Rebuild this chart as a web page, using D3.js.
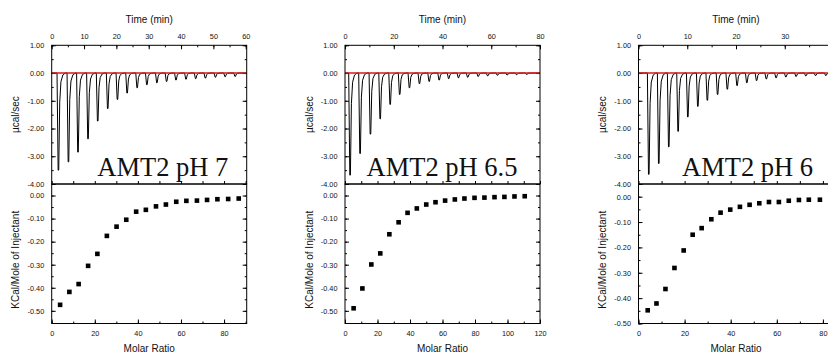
<!DOCTYPE html>
<html>
<head>
<meta charset="utf-8">
<script src="https://cdn.jsdelivr.net/npm/d3@7"></script>
<style>
  html, body { margin: 0; padding: 0; background: #fff; }
  svg { display: block; }
  .tick text { font-family: "Liberation Sans", Arial, sans-serif; font-size: 7.3px; fill: #111; }
  .title { font-family: "Liberation Sans", Arial, sans-serif; font-size: 10px; fill: #111; }
  .tag { font-family: "Liberation Serif", "Times New Roman", serif; font-size: 26.5px; fill: #111; }
</style>
</head>
<body>
<svg id="chart" width="828" height="354"></svg>
<script>
// ---------------- DATA ----------------
const labels = ["AMT2 pH 7", "AMT2 pH 6.5", "AMT2 pH 6"];

// Raw thermogram: injection times (min) and peak minima (µcal/sec)
const injTimeP7  = [2.05, 5.15, 8.1, 11.2, 14.2, 17.3, 20.3, 23.3, 26.4, 29.4, 32.5, 35.5, 38.4, 41.5, 44.5, 47.5, 50.6, 53.6, 56.7];
const peakHeatP7 = [-3.50, -3.20, -2.85, -2.37, -1.73, -1.28, -0.95, -0.72, -0.53, -0.42, -0.35, -0.30, -0.25, -0.22, -0.20, -0.18, -0.15, -0.13, -0.12];

const injTimeP65  = [2.05, 6.15, 10.4, 14.4, 18.5, 22.4, 26.4, 30.5, 34.5, 38.6, 42.5, 46.5, 50.3, 54.6, 58.5, 62.5, 66.5, 70.4, 74.5];
const peakHeatP65 = [-3.68, -2.90, -2.20, -1.65, -1.13, -0.77, -0.53, -0.38, -0.30, -0.25, -0.20, -0.17, -0.15, -0.12, -0.10, -0.08, -0.07, -0.06, -0.05];

const injTimeP6  = [2.09, 4.14, 6.19, 8.11, 10.1, 12.15, 14.1, 16.2, 18.2, 20.2, 22.2, 24.2, 26.2, 28.2, 30.2, 32.3, 34.3, 36.3, 38.4];
const peakHeatP6 = [-3.65, -3.26, -2.66, -2.10, -1.58, -1.20, -0.98, -0.77, -0.58, -0.45, -0.35, -0.27, -0.21, -0.17, -0.14, -0.12, -0.10, -0.09, -0.09];

// Integrated heats: molar ratio vs kcal/mole of injectant
const ratioP7 = [3.9, 8.2, 12.5, 16.9, 21.2, 25.6, 30.1, 34.6, 39.2, 43.7, 48.4, 53.0, 57.8, 62.5, 67.4, 72.1, 76.9, 81.9, 86.8];
const enthP7  = [-0.474, -0.418, -0.384, -0.305, -0.253, -0.175, -0.135, -0.105, -0.070, -0.062, -0.047, -0.039, -0.027, -0.023, -0.022, -0.019, -0.016, -0.015, -0.013];

const ratioP65 = [5.3, 10.7, 16.2, 21.7, 27.3, 33.0, 38.5, 44.2, 50.0, 55.7, 61.6, 67.6, 73.5, 79.7, 85.8, 92.0, 98.1, 104.3, 110.6];
const enthP65  = [-0.489, -0.403, -0.299, -0.251, -0.168, -0.116, -0.075, -0.056, -0.039, -0.029, -0.022, -0.017, -0.013, -0.010, -0.009, -0.007, -0.006, -0.004, -0.003];

const ratioP6 = [4.0, 7.8, 11.7, 15.6, 19.6, 23.5, 27.4, 31.6, 35.6, 39.8, 44.0, 48.2, 52.4, 56.6, 60.9, 65.2, 69.6, 73.9, 78.7];
const enthP6  = [-0.448, -0.421, -0.364, -0.281, -0.212, -0.150, -0.124, -0.089, -0.063, -0.051, -0.040, -0.032, -0.026, -0.021, -0.021, -0.016, -0.013, -0.012, -0.012];

// Axis tick values
const heatTicks = [1, 0, -1, -2, -3, -4];
const enthTicks = [0, -0.1, -0.2, -0.3, -0.4, -0.5];

// ---------------- LAYOUT ----------------
const panels = [
  { label: labels[0], t: injTimeP7,  q: peakHeatP7,  r: ratioP7,  h: enthP7,
    left: 51.7, timeMax: 60.3, timeMajor: 10, ratioMax: 90.5, ratioMajor: 20, enthMin: -0.555,
    tagX: 97.3 },
  { label: labels[1], t: injTimeP65, q: peakHeatP65, r: ratioP65, h: enthP65,
    left: 345, timeMax: 80, timeMajor: 20, ratioMax: 120, ratioMajor: 20, enthMin: -0.555,
    tagX: 366.5 },
  { label: labels[2], t: injTimeP6,  q: peakHeatP6,  r: ratioP6,  h: enthP6,
    left: 638.5, timeMax: 40, timeMajor: 10, ratioMax: 84.6, ratioMajor: 20, enthMin: -0.5,
    tagX: 682 }
];
const W = 195;
const topY = 45.3, midY = 184, botY = 323.5;
const pageW = 828;

const svg = d3.select("#chart");
const fmt = d => (Math.abs(d) < 1e-9 ? 0 : d).toFixed(2);
const range = (a, b, s) => d3.range(a, b + s * 0.001, s);

function noDomain(g) { g.select(".domain").remove(); g.selectAll("line").attr("stroke", "#000"); }

panels.forEach(p => {
  const g = svg.append("g").attr("transform", `translate(${p.left},0)`);

  // ---------- top plot: raw thermogram ----------
  const xt = d3.scaleLinear().domain([0, p.timeMax]).range([0, W]);
  const yt = d3.scaleLinear().domain([-4, 1]).range([midY, topY]);

  const tMinor = range(0, p.timeMax, p.timeMajor / 2);
  const tMajor = range(0, p.timeMax, p.timeMajor);
  // labels only where they fit inside the page
  const tLabeled = tMajor.filter(v => p.left + xt(v) + 5 < pageW);
  g.append("g").attr("transform", `translate(0,${topY})`)
    .call(d3.axisTop(xt).tickValues(tMinor).tickSize(-2).tickFormat("")).call(noDomain);
  g.append("g").attr("transform", `translate(0,${topY})`)
    .call(d3.axisTop(xt).tickValues(tLabeled).tickSize(-4).tickPadding(6.8).tickFormat(d3.format("d"))).call(noDomain);

  const hMinor = range(-4, 1, 0.5);
  g.append("g").call(d3.axisLeft(yt).tickValues(hMinor).tickSize(-2).tickFormat("")).call(noDomain);
  g.append("g").call(d3.axisLeft(yt).tickValues(heatTicks).tickSize(-4).tickPadding(7.5).tickFormat(fmt)).call(noDomain);
  g.append("g").attr("transform", `translate(${W},0)`)
    .call(d3.axisRight(yt).tickValues(hMinor).tickSize(-2).tickFormat("")).call(noDomain);
  g.append("g").attr("transform", `translate(${W},0)`)
    .call(d3.axisRight(yt).tickValues(heatTicks).tickSize(-4).tickFormat("")).call(noDomain);

  // black trace: baseline with a sharp spike at every injection
  const y0 = yt(0);
  const pts = [[xt(0), y0]];
  p.t.forEach((t, i) => {
    const x = xt(t), yd = yt(p.q[i]);
    pts.push([x - 1.3, y0], [x - 0.2, yd], [x + 0.4, yd], [x + 1.4, y0 + (yd - y0) * 0.3],
             [x + 2.6, y0 + (yd - y0) * 0.09], [x + 4.5, y0 + (yd - y0) * 0.02], [x + 7, y0]);
  });
  pts.push([xt(p.timeMax), y0]);
  g.append("path").datum(pts)
    .attr("d", d3.line())
    .attr("fill", "none").attr("stroke", "#000").attr("stroke-width", 1);

  // red baseline
  g.append("path").datum([0, p.timeMax])
    .attr("d", d3.line().x(d => xt(d)).y(() => yt(0)))
    .attr("stroke", "#d41a1a").attr("stroke-width", 1.6).attr("fill", "none");

  // ---------- bottom plot: integrated heats ----------
  const xr = d3.scaleLinear().domain([0, p.ratioMax]).range([0, W]);
  const yr = d3.scaleLinear().domain([p.enthMin, 0.05]).range([botY, midY]);

  const rMinor = range(0, p.ratioMax, p.ratioMajor / 2);
  const rMajor = range(0, p.ratioMax, p.ratioMajor);
  g.append("g").attr("transform", `translate(0,${botY})`)
    .call(d3.axisBottom(xr).tickValues(rMinor).tickSize(-2).tickFormat("")).call(noDomain);
  g.append("g").attr("transform", `translate(0,${botY})`)
    .call(d3.axisBottom(xr).tickValues(rMajor).tickSize(-4).tickPadding(7).tickFormat(d3.format("d"))).call(noDomain);
  // ticks on the shared boundary, pointing up
  g.append("g").attr("transform", `translate(0,${midY})`)
    .call(d3.axisTop(xr).tickValues(rMinor).tickSize(3).tickFormat("")).call(noDomain);

  const eMinor = range(-0.5, 0.0, 0.05);
  g.append("g").call(d3.axisLeft(yr).tickValues(eMinor).tickSize(-2).tickFormat("")).call(noDomain);
  g.append("g").call(d3.axisLeft(yr).tickValues(enthTicks).tickSize(-4).tickPadding(7.5).tickFormat(fmt)).call(noDomain);
  g.append("g").attr("transform", `translate(${W},0)`)
    .call(d3.axisRight(yr).tickValues(eMinor).tickSize(-2).tickFormat("")).call(noDomain);
  g.append("g").attr("transform", `translate(${W},0)`)
    .call(d3.axisRight(yr).tickValues(enthTicks).tickSize(-4).tickFormat("")).call(noDomain);

  const sq = 4.6;
  g.append("g").selectAll("rect").data(p.r.map((r, i) => [r, p.h[i]])).join("rect")
    .attr("x", d => xr(d[0]) - sq / 2).attr("y", d => yr(d[1]) - sq / 2)
    .attr("width", sq).attr("height", sq).attr("fill", "#000");

  // frames
  g.append("rect").attr("x", 0).attr("y", topY).attr("width", W).attr("height", midY - topY)
    .attr("fill", "none").attr("stroke", "#000").attr("stroke-width", 1);
  g.append("rect").attr("x", 0).attr("y", midY).attr("width", W).attr("height", botY - midY)
    .attr("fill", "none").attr("stroke", "#000").attr("stroke-width", 1);

  // titles
  g.append("text").attr("class", "title").attr("x", W * 0.5).attr("y", 22.5)
    .attr("text-anchor", "middle").text("Time (min)");
  g.append("text").attr("class", "title").attr("x", W * 0.5).attr("y", 351.5)
    .attr("text-anchor", "middle").text("Molar Ratio");
  g.append("text").attr("class", "title")
    .attr("transform", `translate(-36,${(topY + midY) / 2}) rotate(-90)`)
    .attr("dy", "0.35em").attr("text-anchor", "middle").text("µcal/sec");
  g.append("text").attr("class", "title")
    .attr("transform", `translate(-36,${(midY + botY) / 2 + 6}) rotate(-90)`)
    .attr("dy", "0.35em").attr("text-anchor", "middle").text("KCal/Mole of Injectant");

  // sample tag
  g.append("text").attr("class", "tag").attr("x", p.tagX - p.left).attr("y", 176).text(p.label);
});
</script>
</body>
</html>
